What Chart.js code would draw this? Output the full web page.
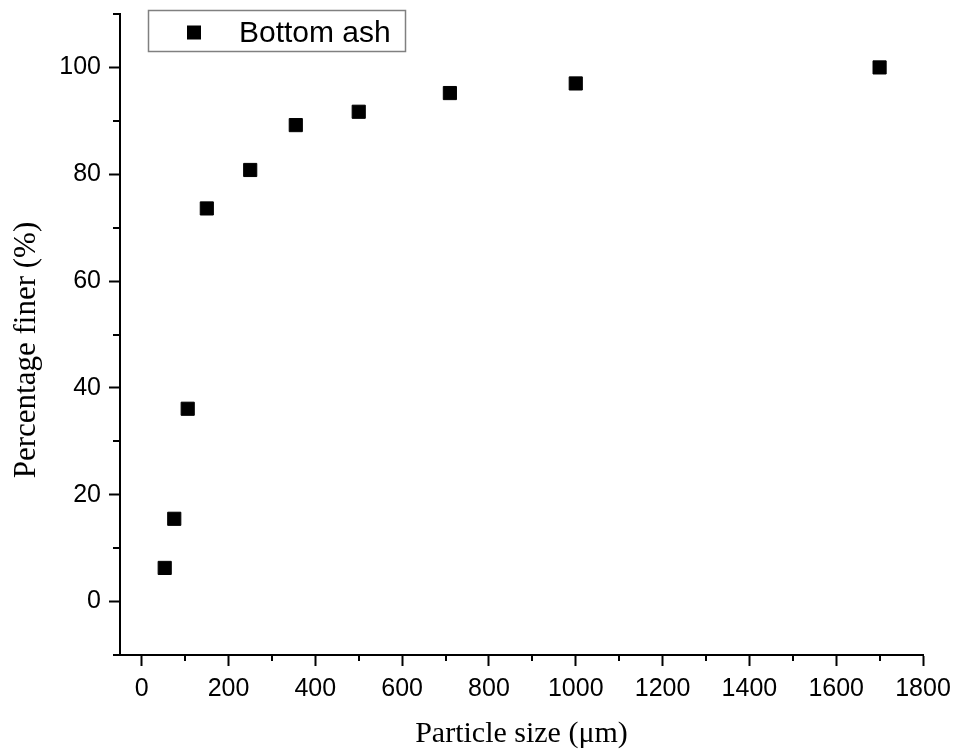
<!DOCTYPE html>
<html>
<head>
<meta charset="utf-8">
<script src="https://cdn.jsdelivr.net/npm/chart.js@4"></script>
<style>
  body { margin: 0; background: #fff; }
  #wrap { width: 954px; height: 753px; }
</style>
</head>
<body>
<div id="wrap"><canvas id="chart" width="954" height="753"></canvas></div>
<script>
// datos
const particleSize = [53, 75, 106, 150, 250, 355, 500, 710, 1000, 1700];
const percentFiner = [6.3, 15.5, 36.1, 73.6, 80.8, 89.2, 91.7, 95.2, 97.0, 100.0];
const seriesLabel = 'Bottom ash';

const xTicks = [0, 200, 400, 600, 800, 1000, 1200, 1400, 1600, 1800];
const yTicks = [0, 20, 40, 60, 80, 100];
const xMinor = [100, 300, 500, 700, 900, 1100, 1300, 1500, 1700];
const yMinor = [-10, 10, 30, 50, 70, 90, 110];

const sansFont = "'Liberation Sans', Arial, sans-serif";
const serifFont = "'Liberation Serif', 'Times New Roman', serif";

// ticks menores hacia fuera de los ejes
const minorTicks = {
    id: 'minorTicks',
    afterDraw(chart) {
        const ctx = chart.ctx;
        const xs = chart.scales.x, ys = chart.scales.y;
        const area = chart.chartArea;
        ctx.save();
        ctx.strokeStyle = '#000';
        ctx.lineWidth = 2;
        ctx.beginPath();
        xMinor.forEach(v => {
            const px = Math.round(xs.getPixelForValue(v));
            ctx.moveTo(px, area.bottom);
            ctx.lineTo(px, area.bottom + 6);
        });
        yMinor.forEach(v => {
            const py = Math.round(ys.getPixelForValue(v));
            ctx.moveTo(area.left, py);
            ctx.lineTo(area.left - 7, py);
        });
        ctx.stroke();
        ctx.restore();
    }
};

// leyenda con marco, como en el original
const boxLegend = {
    id: 'boxLegend',
    afterDraw(chart) {
        const ctx = chart.ctx;
        const ds = chart.data.datasets[0];
        ctx.save();
        ctx.fillStyle = '#fff';
        ctx.fillRect(148.5, 10.5, 257, 41);
        ctx.strokeStyle = '#808080';
        ctx.lineWidth = 1.5;
        ctx.strokeRect(148.5, 10.5, 257, 41);
        ctx.fillStyle = ds.backgroundColor;
        ctx.fillRect(187, 25.5, 14, 14);
        ctx.font = '30px ' + sansFont;
        ctx.textBaseline = 'alphabetic';
        ctx.fillText(ds.label, 239, 42);
        ctx.restore();
    }
};

new Chart(document.getElementById('chart'), {
    type: 'scatter',
    data: {
        datasets: [{
            label: seriesLabel,
            data: particleSize.map((x, i) => ({ x, y: percentFiner[i] })),
            pointStyle: 'rect',
            pointRadius: 9.3,
            pointBorderWidth: 1,
            backgroundColor: '#000',
            borderColor: '#000',
            clip: false
        }]
    },
    options: {
        responsive: false,
        animation: false,
        layout: { padding: { left: 0, right: 31, top: 14, bottom: 0 } },
        plugins: {
            legend: { display: false },
            tooltip: { enabled: false }
        },
        scales: {
            x: {
                type: 'linear',
                min: -50,
                max: 1800,
                afterBuildTicks: s => { s.ticks = xTicks.map(v => ({ value: v })); },
                afterFit: s => { s.height = 98; s.paddingLeft = 0; s.paddingRight = 0; },
                border: { display: true, color: '#000', width: 2 },
                grid: { drawOnChartArea: false, drawTicks: true, tickLength: 11, tickColor: '#000', tickWidth: 2 },
                ticks: {
                    color: '#000',
                    font: { family: sansFont, size: 25 },
                    padding: 8,
                    maxRotation: 0,
                    callback: v => String(v)
                },
                title: {
                    display: true,
                    text: 'Particle size (μm)',
                    color: '#000',
                    font: { family: serifFont, size: 30 },
                    padding: { top: 0, bottom: 1 }
                }
            },
            y: {
                min: -10,
                max: 110,
                afterBuildTicks: s => { s.ticks = yTicks.map(v => ({ value: v })); },
                afterFit: s => { s.width = 120; s.paddingTop = 0; s.paddingBottom = 0; },
                border: { display: true, color: '#000', width: 2 },
                grid: { drawOnChartArea: false, drawTicks: true, tickLength: 11, tickColor: '#000', tickWidth: 2 },
                ticks: {
                    color: '#000',
                    font: { family: sansFont, size: 25 },
                    padding: 8,
                    callback: v => String(v)
                },
                title: {
                    display: true,
                    text: 'Percentage finer (%)    ',
                    color: '#000',
                    font: { family: serifFont, size: 31 },
                    padding: { top: 8, bottom: 0 }
                }
            }
        }
    },
    plugins: [minorTicks, boxLegend]
});
</script>
</body>
</html>
